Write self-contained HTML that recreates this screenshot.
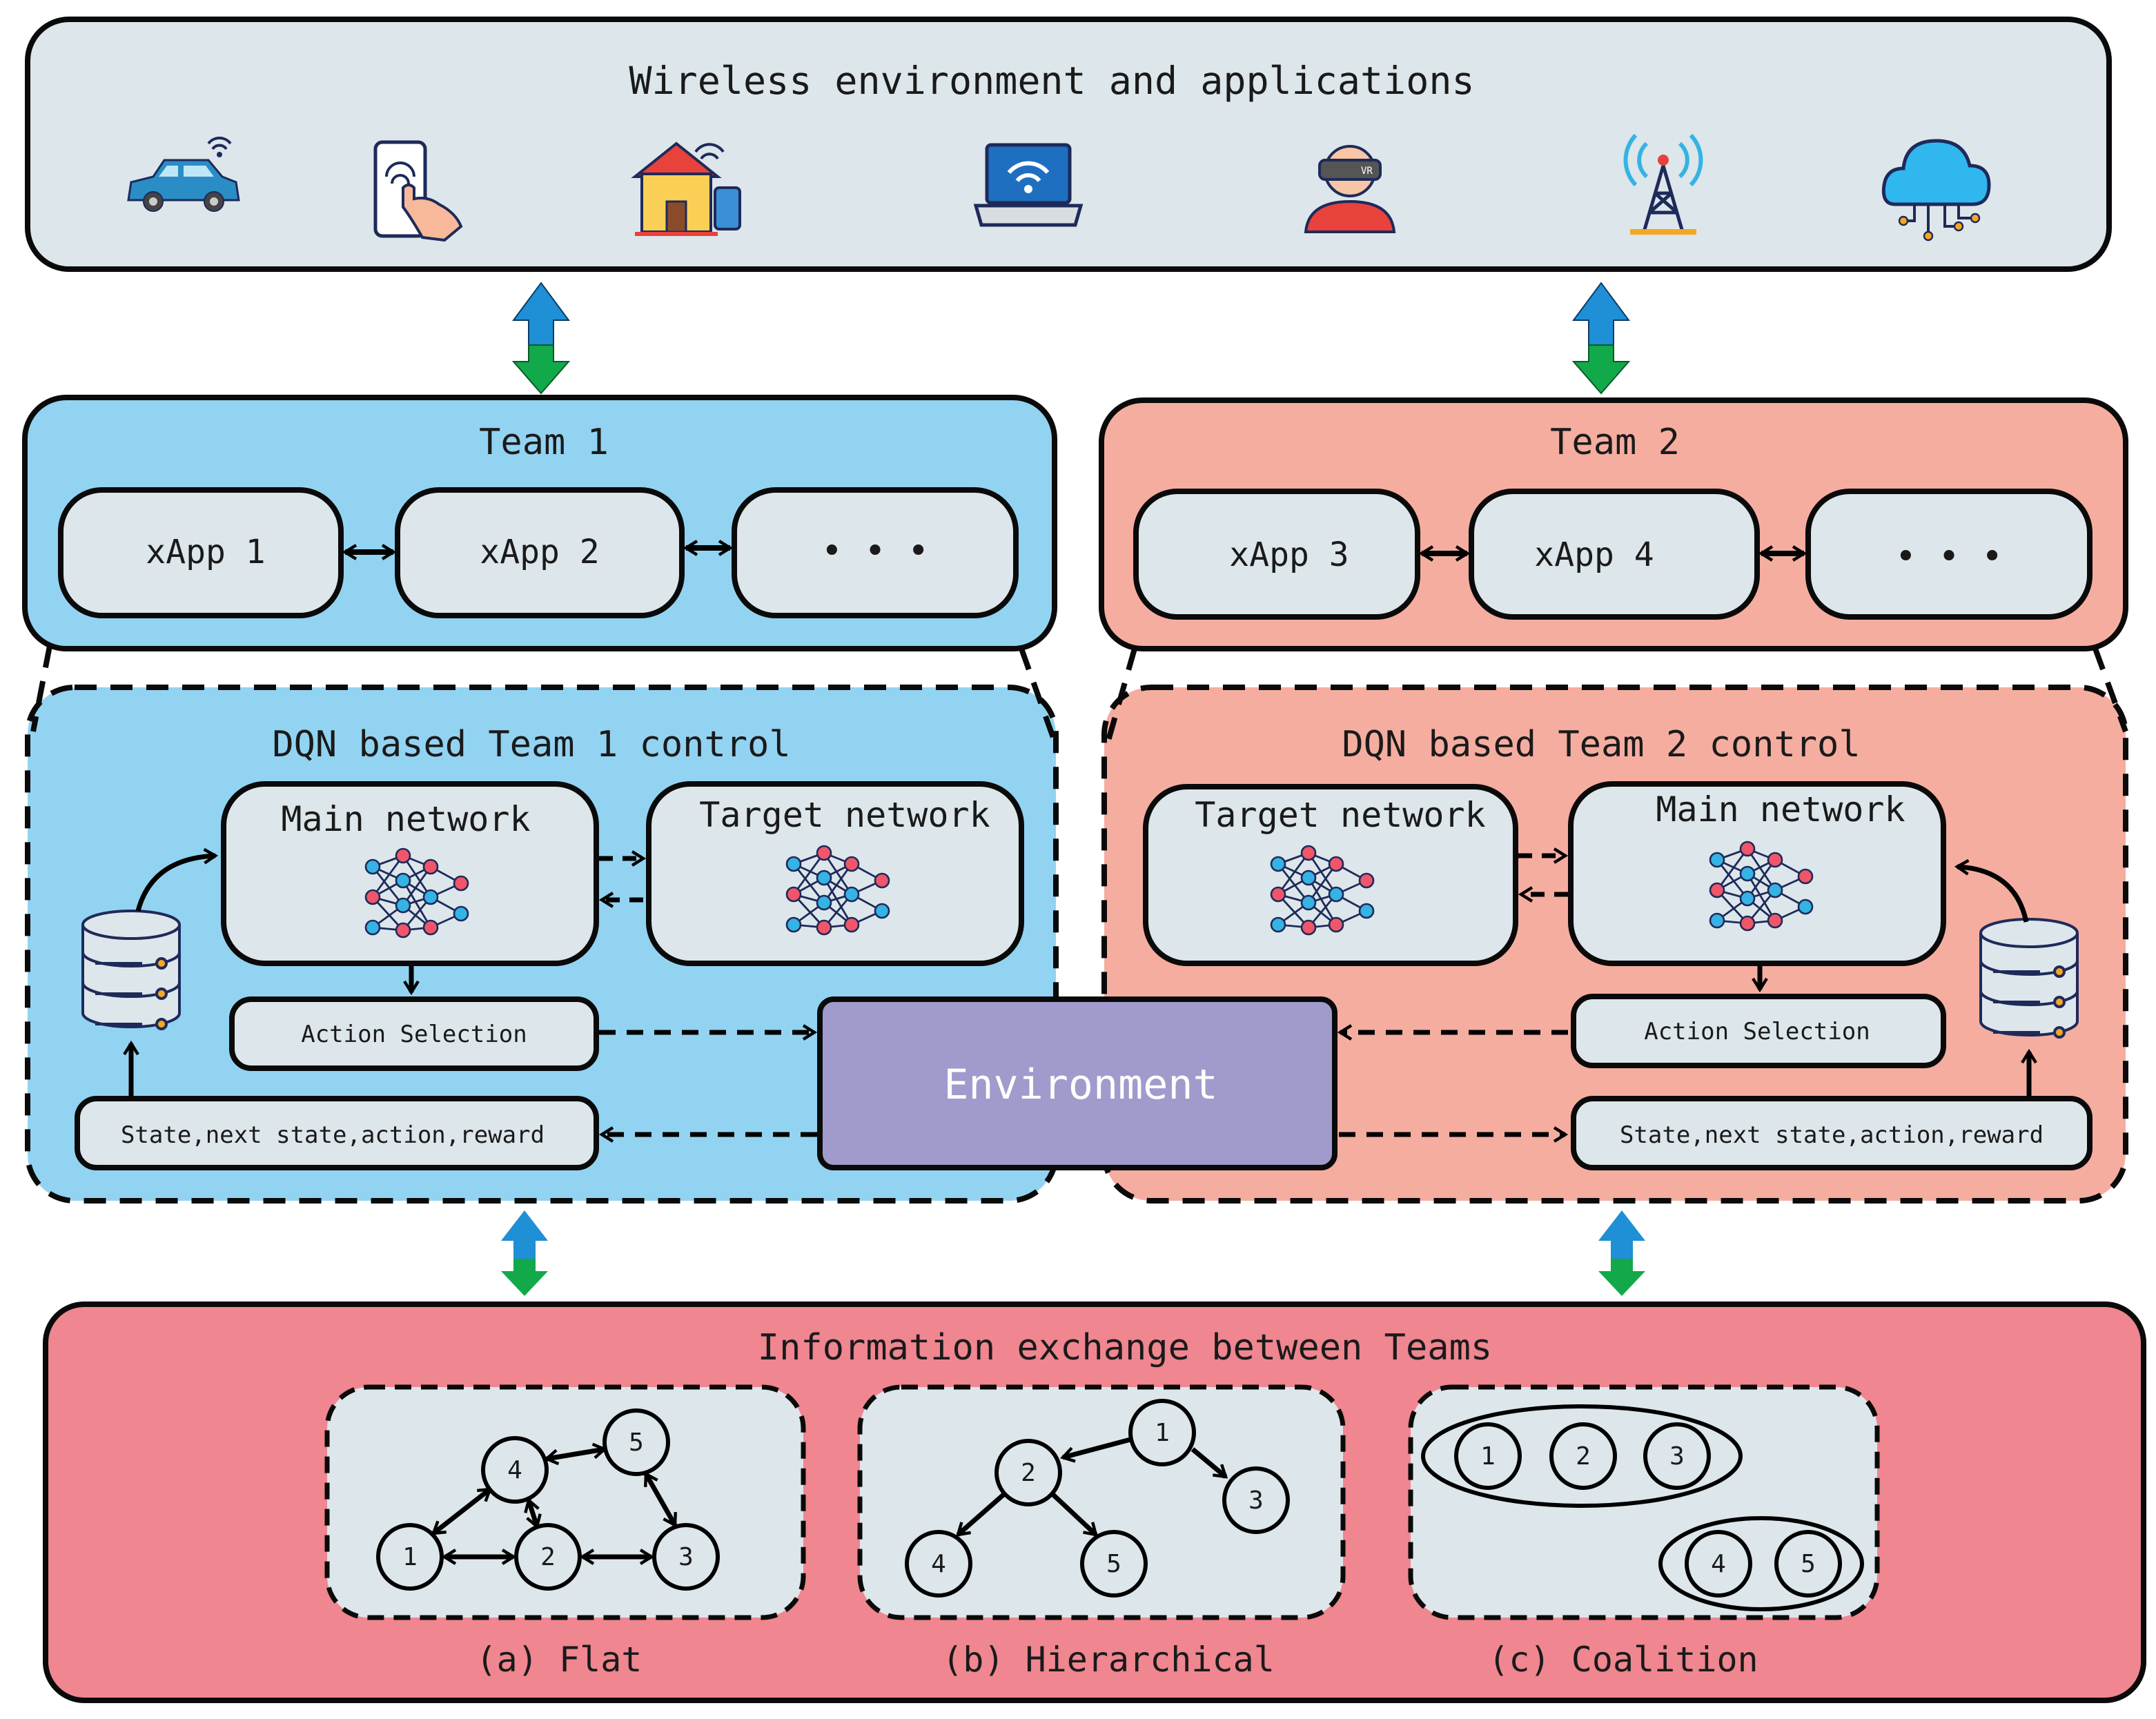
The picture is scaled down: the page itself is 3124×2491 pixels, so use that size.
<!DOCTYPE html>
<html><head><meta charset="utf-8"><style>
html,body{margin:0;padding:0;background:#fff;}
svg{display:block;}
text{font-family:"DejaVu Sans Mono","Liberation Mono",monospace;fill:#1a1a1a;}
</style></head><body>
<svg width="3124" height="2491" viewBox="0 0 1562 1245.5" xmlns="http://www.w3.org/2000/svg">
<defs>
<marker id="ah" viewBox="0 0 12 12" refX="10" refY="6" markerWidth="12" markerHeight="12" markerUnits="userSpaceOnUse" orient="auto-start-reverse">
<path d="M2,1 L10,6 L2,11" fill="none" stroke="#000" stroke-width="2.2"/>
</marker>
<g id="nn">
<g stroke="#1e2a5a" stroke-width="1.4">
<path d="M-32,-22 L-10,-30 M-32,-22 L-10,-12 M-32,-22 L-10,6 M-32,0 L-10,-12 M-32,0 L-10,6 M-32,0 L-10,24 M-32,22 L-10,6 M-32,22 L-10,24 M-32,-22 L-10,-30 M-10,-30 L10,-22 M-10,-30 L10,0 M-10,-12 L10,-22 M-10,-12 L10,0 M-10,-12 L10,22 M-10,6 L10,0 M-10,6 L10,22 M-10,6 L10,-22 M-10,24 L10,22 M-10,24 L10,0 M10,-22 L32,-10 M10,0 L32,-10 M10,0 L32,12 M10,22 L32,12 M-32,0 L-10,-30"/>
</g>
<g stroke="#1e2a5a" stroke-width="1.3">
<circle cx="-32" cy="-22" r="5" fill="#34b3e4"/><circle cx="-32" cy="0" r="5" fill="#f0566a"/><circle cx="-32" cy="22" r="5" fill="#34b3e4"/>
<circle cx="-10" cy="-30" r="5" fill="#f0566a"/><circle cx="-10" cy="-12" r="5" fill="#34b3e4"/><circle cx="-10" cy="6" r="5" fill="#34b3e4"/><circle cx="-10" cy="24" r="5" fill="#f0566a"/>
<circle cx="10" cy="-22" r="5" fill="#f0566a"/><circle cx="10" cy="0" r="5" fill="#34b3e4"/><circle cx="10" cy="22" r="5" fill="#f0566a"/>
<circle cx="32" cy="-10" r="5" fill="#f0566a"/><circle cx="32" cy="12" r="5" fill="#34b3e4"/>
</g>
</g>
<g id="db">
<g stroke="#1e2a5a" stroke-width="2" fill="#dde6ea">
<path d="M-35,-32 L-35,32 A35,10 0 0 0 35,32 L35,-32"/>
<ellipse cx="0" cy="-32" rx="35" ry="10"/>
<path d="M-35,-12 A35,10 0 0 0 35,-12 M-35,10 A35,10 0 0 0 35,10" fill="none"/>
<circle cx="22" cy="-4" r="3.5" fill="#f5a623"/><circle cx="22" cy="18" r="3.5" fill="#f5a623"/><circle cx="22" cy="40" r="3.5" fill="#f5a623"/>
<path d="M-26,-4 H8 M-26,18 H8 M-26,40 H8" fill="none"/>
</g>
</g>
<g id="dbl">
<polygon points="-20,27 0,0 20,27 9,27 9,45 -9,45 -9,27" fill="#1f8fd6" stroke="#0a3d66" stroke-width="1"/>
<polygon points="-9,45 9,45 9,57 20,57 0,80 -20,57 -9,57" fill="#12a94a" stroke="#0a5a28" stroke-width="1"/>
</g>
<g id="dbls">
<polygon points="-17,22 0,0 17,22 8,22 8,35 -8,35 -8,22" fill="#1f8fd6"/>
<polygon points="-8,35 8,35 8,44 17,44 0,62 -17,44 -8,44" fill="#12a94a"/>
</g>
</defs>

<!-- top box -->
<rect x="20" y="14" width="1508" height="181" rx="30" fill="#dde6ea" stroke="#0a0a0a" stroke-width="4"/>
<text x="762" y="68" font-size="27.5" text-anchor="middle">Wireless environment and applications</text>

<!-- icons -->
<g transform="translate(133,140)">
<path d="M-40,5 L-38,-8 L-22,-12 L-14,-24 L18,-24 L28,-12 L38,-8 L40,5 Z" fill="#2a8dc5" stroke="#1e2a5a" stroke-width="1.5"/>
<path d="M-12,-20 L-4,-20 L-4,-12 L-18,-12 Z M0,-20 L16,-20 L22,-12 L0,-12 Z" fill="#bfe6f6"/>
<circle cx="-22" cy="6" r="7" fill="#444" stroke="#1e2a5a"/><circle cx="22" cy="6" r="7" fill="#444" stroke="#1e2a5a"/>
<circle cx="-22" cy="6" r="3" fill="#ccc"/><circle cx="22" cy="6" r="3" fill="#ccc"/>
<path d="M18,-36 A10,10 0 0 1 34,-36 M21,-32 A6,6 0 0 1 31,-32" stroke="#1e2a5a" stroke-width="2" fill="none"/><circle cx="26" cy="-28" r="2" fill="#1e2a5a"/>
</g>
<g transform="translate(300,138)">
<rect x="-28" y="-35" width="36" height="68" rx="5" fill="#fff" stroke="#1e2a5a" stroke-width="2.5"/>
<path d="M-20,-10 A10,10 0 0 1 0,-10 M-16,-5 A6,6 0 0 1 -4,-5" stroke="#1e2a5a" stroke-width="2" fill="none"/>
<path d="M-8,5 L-8,-2 Q-4,-6 0,-2 L0,6 Q10,4 18,10 Q30,16 34,26 L22,36 L6,34 Q-2,20 -8,12 Z" fill="#f7b99a" stroke="#1e2a5a" stroke-width="2"/>
</g>
<g transform="translate(490,140)">
<polygon points="-30,-12 0,-36 30,-12" fill="#e8423c" stroke="#1e2a5a" stroke-width="2"/>
<rect x="-25" y="-14" width="50" height="42" fill="#f9cf55" stroke="#1e2a5a" stroke-width="2"/>
<rect x="-7" y="6" width="14" height="22" fill="#8a4b2a" stroke="#1e2a5a" stroke-width="1.5"/>
<rect x="-30" y="28" width="60" height="3" fill="#e8423c"/>
<rect x="28" y="-4" width="18" height="30" rx="3" fill="#3a8fd6" stroke="#1e2a5a" stroke-width="2"/>
<path d="M14,-30 A12,12 0 0 1 34,-30 M18,-25 A7,7 0 0 1 30,-25" stroke="#1e2a5a" stroke-width="2" fill="none"/>
</g>
<g transform="translate(745,137)">
<rect x="-30" y="-32" width="60" height="42" rx="3" fill="#1f6fc0" stroke="#1e2a5a" stroke-width="2.5"/>
<path d="M-38,12 L38,12 L34,26 L-34,26 Z" fill="#d8dde0" stroke="#1e2a5a" stroke-width="2.5"/>
<path d="M-14,-12 A18,18 0 0 1 14,-12 M-8,-6 A10,10 0 0 1 8,-6" stroke="#fff" stroke-width="3" fill="none"/><circle cx="0" cy="0" r="3" fill="#fff"/>
</g>
<g transform="translate(978,138)">
<path d="M-32,30 Q-30,8 0,8 Q30,8 32,30 Z" fill="#e8423c" stroke="#1e2a5a" stroke-width="2"/>
<circle cx="0" cy="-14" r="18" fill="#f7c6a5" stroke="#1e2a5a" stroke-width="2"/>
<rect x="-22" y="-22" width="44" height="14" rx="4" fill="#555" stroke="#1e2a5a" stroke-width="2"/>
<text x="8" y="-12" font-size="7" fill="#fff" style="fill:#fff">VR</text>
</g>
<g transform="translate(1205,138)">
<path d="M-14,30 L0,-18 L14,30 M-10,16 L10,16 M-6,2 L6,2 M-10,16 L6,2 M10,16 L-6,2" stroke="#1e2a5a" stroke-width="2.5" fill="none"/>
<rect x="-24" y="28" width="48" height="4" fill="#f5a623"/>
<circle cx="0" cy="-22" r="4" fill="#e8423c"/>
<path d="M-12,-34 A16,16 0 0 0 -12,-10 M12,-34 A16,16 0 0 1 12,-10 M-20,-40 A26,26 0 0 0 -20,-4 M20,-40 A26,26 0 0 1 20,-4" stroke="#34b3e4" stroke-width="3" fill="none"/>
</g>
<g transform="translate(1403,134)">
<path d="M-30,14 Q-40,14 -38,0 Q-36,-12 -24,-12 Q-22,-32 0,-32 Q20,-32 24,-14 Q38,-14 38,0 Q38,14 26,14 Z" fill="#30b8ee" stroke="#1e2a5a" stroke-width="2.5"/>
<path d="M-16,14 V26 H-22 M-6,14 V34 M6,14 V30 H14 M16,14 V24 H26" stroke="#1e2a5a" stroke-width="2" fill="none"/>
<g fill="#f5a623" stroke="#1e2a5a" stroke-width="1.2"><circle cx="-24" cy="26" r="3"/><circle cx="-6" cy="37" r="3"/><circle cx="16" cy="30" r="3"/><circle cx="28" cy="24" r="3"/></g>
</g>

<use href="#dbl" x="392" y="205"/>
<use href="#dbl" x="1160" y="205"/>

<!-- Team 1 -->
<rect x="18" y="288" width="746" height="182" rx="30" fill="#93d3f2" stroke="#0a0a0a" stroke-width="4"/>
<text x="394" y="329" font-size="26" text-anchor="middle">Team 1</text>
<g fill="#dde6ea" stroke="#0a0a0a" stroke-width="4">
<rect x="44" y="355" width="203" height="91" rx="30"/>
<rect x="288" y="355" width="206" height="91" rx="30"/>
<rect x="532" y="355" width="204" height="91" rx="30"/>
</g>
<text x="149" y="408" font-size="24" text-anchor="middle">xApp 1</text>
<text x="391" y="408" font-size="24" text-anchor="middle">xApp 2</text>
<text x="634" y="408" font-size="26" text-anchor="middle">• • •</text>
<g stroke="#000" stroke-width="4" marker-start="url(#ah)" marker-end="url(#ah)">
<line x1="250" y1="400" x2="285" y2="400"/><line x1="497" y1="397" x2="529" y2="397"/>
</g>

<!-- Team 2 -->
<rect x="798" y="290" width="742" height="180" rx="30" fill="#f5ada0" stroke="#0a0a0a" stroke-width="4"/>
<text x="1170" y="329" font-size="26" text-anchor="middle">Team 2</text>
<g fill="#dde6ea" stroke="#0a0a0a" stroke-width="4">
<rect x="823" y="356" width="204" height="91" rx="30"/>
<rect x="1066" y="356" width="207" height="91" rx="30"/>
<rect x="1310" y="356" width="204" height="91" rx="30"/>
</g>
<text x="934" y="410" font-size="24" text-anchor="middle">xApp 3</text>
<text x="1155" y="410" font-size="24" text-anchor="middle">xApp 4</text>
<text x="1412" y="412" font-size="26" text-anchor="middle">• • •</text>
<g stroke="#000" stroke-width="4" marker-start="url(#ah)" marker-end="url(#ah)">
<line x1="1030" y1="401" x2="1063" y2="401"/><line x1="1276" y1="401" x2="1307" y2="401"/>
</g>

<!-- DQN boxes -->
<g stroke="#0a0a0a" stroke-width="4" stroke-dasharray="16,10">
<rect x="20" y="498" width="745" height="372" rx="34" fill="#93d3f2"/>
<rect x="800" y="498" width="740" height="372" rx="34" fill="#f5ada0"/>
<line x1="36" y1="468" x2="24" y2="530" fill="none"/>
<line x1="740" y1="470" x2="765" y2="540" fill="none"/>
<line x1="822" y1="470" x2="802" y2="540" fill="none"/>
<line x1="1518" y1="470" x2="1540" y2="530" fill="none"/>
</g>
<text x="385" y="548" font-size="26" text-anchor="middle">DQN based Team 1 control</text>
<text x="1160" y="548" font-size="26" text-anchor="middle">DQN based Team 2 control</text>

<g fill="#dde6ea" stroke="#0a0a0a" stroke-width="4">
<rect x="162" y="568" width="270" height="130" rx="30"/>
<rect x="470" y="568" width="270" height="130" rx="30"/>
<rect x="168" y="724" width="264" height="50" rx="14"/>
<rect x="56" y="796" width="376" height="50" rx="14"/>
<rect x="830" y="570" width="268" height="128" rx="30"/>
<rect x="1138" y="568" width="270" height="130" rx="30"/>
<rect x="1140" y="722" width="268" height="50" rx="14"/>
<rect x="1140" y="796" width="374" height="50" rx="14"/>
</g>
<text x="294" y="602" font-size="25" text-anchor="middle">Main network</text>
<text x="612" y="599" font-size="25" text-anchor="middle">Target network</text>
<text x="300" y="755" font-size="17" text-anchor="middle">Action Selection</text>
<text x="241" y="828" font-size="17" text-anchor="middle">State,next state,action,reward</text>
<text x="971" y="599" font-size="25" text-anchor="middle">Target network</text>
<text x="1290" y="595" font-size="25" text-anchor="middle">Main network</text>
<text x="1273" y="753" font-size="17" text-anchor="middle">Action Selection</text>
<text x="1327" y="828" font-size="17" text-anchor="middle">State,next state,action,reward</text>

<use href="#nn" x="302" y="650"/>
<use href="#nn" x="607" y="648"/>
<use href="#nn" x="958" y="648"/>
<use href="#nn" x="1276" y="645"/>
<use href="#db" x="95" y="702"/>
<use href="#db" x="1470" y="708"/>

<!-- Environment -->
<rect x="594" y="724" width="373" height="122" rx="10" fill="#a09bcc" stroke="#0a0a0a" stroke-width="4"/>
<text x="783" y="796" font-size="30" text-anchor="middle" style="fill:#fff">Environment</text>

<!-- connectors team1 -->
<g stroke="#000" stroke-width="3.5" fill="none" marker-end="url(#ah)">
<path d="M100,660 Q110,622 156,620"/>
<line x1="95" y1="794" x2="95" y2="756"/>
<line x1="298" y1="700" x2="298" y2="719"/>
<line x1="434" y1="622" x2="466" y2="622" stroke-dasharray="10,7"/>
<line x1="466" y1="652" x2="436" y2="652" stroke-dasharray="10,7"/>
<line x1="434" y1="748" x2="590" y2="748" stroke-dasharray="12,8"/>
<line x1="592" y1="822" x2="436" y2="822" stroke-dasharray="12,8"/>
<path d="M1468,668 Q1460,630 1418,628"/>
<line x1="1470" y1="794" x2="1470" y2="762"/>
<line x1="1275" y1="700" x2="1275" y2="717"/>
<line x1="1100" y1="620" x2="1134" y2="620" stroke-dasharray="10,7"/>
<line x1="1136" y1="648" x2="1102" y2="648" stroke-dasharray="10,7"/>
<line x1="1136" y1="748" x2="971" y2="748" stroke-dasharray="12,8"/>
<line x1="970" y1="822" x2="1134" y2="822" stroke-dasharray="12,8"/>
</g>

<use href="#dbls" x="380" y="877"/>
<use href="#dbls" x="1175" y="877"/>

<!-- bottom -->
<rect x="33" y="945" width="1520" height="287" rx="28" fill="#ef8690" stroke="#0a0a0a" stroke-width="4"/>
<text x="815" y="985" font-size="26" text-anchor="middle">Information exchange between Teams</text>
<g fill="#dde6ea" stroke="#0a0a0a" stroke-width="3.5" stroke-dasharray="12,7">
<rect x="237" y="1005" width="345" height="167" rx="30"/>
<rect x="623" y="1005" width="350" height="167" rx="30"/>
<rect x="1022" y="1005" width="338" height="167" rx="30"/>
</g>
<text x="405" y="1211" font-size="25" text-anchor="middle">(a) Flat</text>
<text x="803" y="1211" font-size="25" text-anchor="middle">(b) Hierarchical</text>
<text x="1176" y="1211" font-size="25" text-anchor="middle">(c) Coalition</text>

<!-- flat -->
<g stroke="#000" stroke-width="3.5" marker-start="url(#ah)" marker-end="url(#ah)" fill="none">
<line x1="396" y1="1057" x2="438" y2="1050"/>
<line x1="355" y1="1079" x2="314" y2="1111"/>
<line x1="383" y1="1087" x2="389" y2="1106"/>
<line x1="322" y1="1128" x2="372" y2="1128"/>
<line x1="422" y1="1128" x2="472" y2="1128"/>
<line x1="468" y1="1068" x2="489" y2="1105"/>
</g>
<g fill="#dde6ea" stroke="#000" stroke-width="3">
<circle cx="373" cy="1065" r="23"/><circle cx="461" cy="1045" r="23"/><circle cx="297" cy="1128" r="23"/><circle cx="397" cy="1128" r="23"/><circle cx="497" cy="1128" r="23"/>
</g>
<g font-size="18" text-anchor="middle">
<text x="373" y="1071">4</text><text x="461" y="1051">5</text><text x="297" y="1134">1</text><text x="397" y="1134">2</text><text x="497" y="1134">3</text>
</g>
<!-- hierarchical -->
<g stroke="#000" stroke-width="3.5" marker-end="url(#ah)" fill="none">
<line x1="819" y1="1043" x2="770" y2="1056"/>
<line x1="864" y1="1050" x2="888" y2="1070"/>
<line x1="727" y1="1083" x2="694" y2="1112"/>
<line x1="763" y1="1083" x2="794" y2="1112"/>
</g>
<g fill="#dde6ea" stroke="#000" stroke-width="3">
<circle cx="842" cy="1038" r="23"/><circle cx="745" cy="1067" r="23"/><circle cx="910" cy="1087" r="23"/><circle cx="680" cy="1133" r="23"/><circle cx="807" cy="1133" r="23"/>
</g>
<g font-size="18" text-anchor="middle">
<text x="842" y="1044">1</text><text x="745" y="1073">2</text><text x="910" y="1093">3</text><text x="680" y="1139">4</text><text x="807" y="1139">5</text>
</g>
<!-- coalition -->
<g fill="none" stroke="#000" stroke-width="3">
<ellipse cx="1146" cy="1055" rx="115" ry="36"/>
<ellipse cx="1276" cy="1133" rx="73" ry="33"/>
</g>
<g fill="#dde6ea" stroke="#000" stroke-width="3">
<circle cx="1078" cy="1055" r="23"/><circle cx="1147" cy="1055" r="23"/><circle cx="1215" cy="1055" r="23"/><circle cx="1245" cy="1133" r="23"/><circle cx="1310" cy="1133" r="23"/>
</g>
<g font-size="18" text-anchor="middle">
<text x="1078" y="1061">1</text><text x="1147" y="1061">2</text><text x="1215" y="1061">3</text><text x="1245" y="1139">4</text><text x="1310" y="1139">5</text>
</g>
</svg>
</body></html>
